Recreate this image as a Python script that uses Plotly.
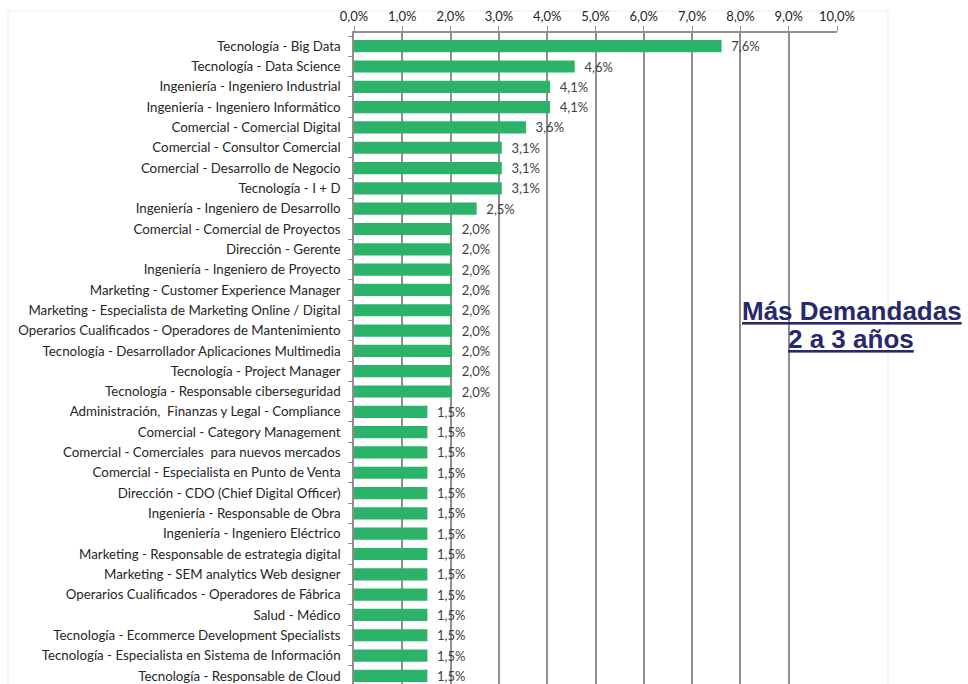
import plotly.graph_objects as go

categories = [
    "Tecnología - Big Data",
    "Tecnología - Data Science",
    "Ingeniería - Ingeniero Industrial",
    "Ingeniería - Ingeniero Informático",
    "Comercial - Comercial Digital",
    "Comercial - Consultor Comercial",
    "Comercial - Desarrollo de Negocio",
    "Tecnología - I + D",
    "Ingeniería - Ingeniero de Desarrollo",
    "Comercial - Comercial de Proyectos",
    "Dirección - Gerente",
    "Ingeniería - Ingeniero de Proyecto",
    "Marketing - Customer Experience Manager",
    "Marketing - Especialista de Marketing Online / Digital",
    "Operarios Cualificados - Operadores de Mantenimiento",
    "Tecnología - Desarrollador Aplicaciones Multimedia",
    "Tecnología - Project Manager",
    "Tecnología - Responsable ciberseguridad",
    "Administración,  Finanzas y Legal - Compliance",
    "Comercial - Category Management",
    "Comercial - Comerciales  para nuevos mercados",
    "Comercial - Especialista en Punto de Venta",
    "Dirección - CDO (Chief Digital Officer)",
    "Ingeniería - Responsable de Obra",
    "Ingeniería - Ingeniero Eléctrico",
    "Marketing - Responsable de estrategia digital",
    "Marketing - SEM analytics Web designer",
    "Operarios Cualificados - Operadores de Fábrica",
    "Salud - Médico",
    "Tecnología - Ecommerce Development Specialists",
    "Tecnología - Especialista en Sistema de Información",
    "Tecnología - Responsable de Cloud",
]

values = [
    0.0761, 0.0457, 0.0406, 0.0406, 0.0356, 0.0306, 0.0306, 0.0306, 0.0254,
    0.0203, 0.0203, 0.0203, 0.0203, 0.0203, 0.0203, 0.0203, 0.0203, 0.0203,
    0.0152, 0.0152, 0.0152, 0.0152, 0.0152, 0.0152, 0.0152, 0.0152, 0.0152,
    0.0152, 0.0152, 0.0152, 0.0152, 0.0152,
]

x_ticks = [0, 0.01, 0.02, 0.03, 0.04, 0.05, 0.06, 0.07, 0.08, 0.09, 0.10]

W, H = 968, 684
L, R, T, B = 354, 131, 33, 0
pw, ph = W - L - R, H - T - B


def px_x(p):
    return (p - L) / pw


def px_y(p):
    return (H - B - p) / ph


fig = go.Figure(
    go.Bar(
        x=values,
        y=categories,
        orientation="h",
        marker=dict(color="#2bb36a", line=dict(width=0)),
        texttemplate="  %{x:.1%}",
        textposition="outside",
        constraintext="none",
        textfont=dict(family="Lato", size=13, color="#404040"),
        cliponaxis=False,
        width=0.6,
        hoverinfo="skip",
    )
)

fig.update_layout(
    width=W,
    height=H,
    margin=dict(l=L, r=R, t=T, b=B, pad=0),
    paper_bgcolor="white",
    plot_bgcolor="white",
    separators=",.",
    showlegend=False,
    font=dict(family="Lato", size=13, color="#262626"),
    xaxis=dict(
        side="top",
        range=[0, 0.10],
        tickvals=x_ticks,
        tickformat=".1%",
        showgrid=True,
        gridcolor="#8f8f8f",
        gridwidth=1.5,
        showline=True,
        linecolor="#8f8f8f",
        linewidth=1.5,
        ticks="outside",
        ticklen=5,
        tickcolor="#8f8f8f",
        tickfont=dict(family="Lato", size=13, color="#262626"),
        zeroline=False,
        fixedrange=True,
    ),
    yaxis=dict(
        categoryorder="array",
        categoryarray=categories,
        range=[31.4, -0.65],
        showline=True,
        linecolor="#8f8f8f",
        linewidth=1.5,
        ticks="outside",
        tickson="boundaries",
        ticklen=4,
        tickcolor="#8f8f8f",
        ticklabelstandoff=9,
        tickfont=dict(family="Lato", size=13.3, color="#262626"),
        showgrid=False,
        zeroline=False,
        fixedrange=True,
    ),
    shapes=[
        dict(
            type="rect", xref="paper", yref="paper",
            x0=px_x(8), x1=px_x(888), y0=px_y(700), y1=px_y(11),
            line=dict(color="#ececec", width=1), layer="below",
        )
    ],
    annotations=[
        dict(
            text="<b><u>Más Demandadas</u></b>",
            xref="paper", yref="paper",
            x=px_x(740), y=px_y(311),
            xanchor="left", yanchor="middle",
            showarrow=False,
            font=dict(family="Liberation Sans", size=26, color="#27296e"),
        ),
        dict(
            text="<b><u>2 a 3 años</u></b>",
            xref="paper", yref="paper",
            x=px_x(851), y=px_y(339),
            xanchor="center", yanchor="middle",
            showarrow=False,
            font=dict(family="Liberation Sans", size=26, color="#27296e"),
        ),
    ],
)

fig.write_html(
    "out.html",
    config={"displayModeBar": False},
    post_script="document.body.style.margin='0px';document.body.style.overflow='hidden';",
)
